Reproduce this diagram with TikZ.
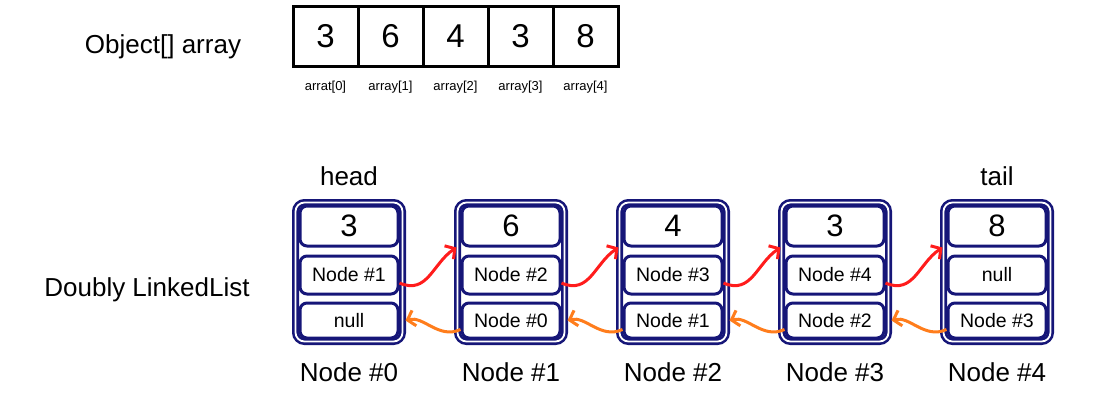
\documentclass[tikz,border=0pt]{standalone}
\usepackage{fontspec}
\setmainfont{Liberation Sans}
\usepackage{xcolor}
\usepackage{tikz}
\usetikzlibrary{arrows.meta,positioning}
\definecolor{navy}{RGB}{22,22,120}
\definecolor{nextred}{RGB}{255,28,28}
\definecolor{prevorange}{RGB}{255,125,28}

\begin{document}
\begin{tikzpicture}[x=1pt, y=-1pt,
    cell/.style={rectangle, draw, line width=3pt, minimum width=65pt, minimum height=60pt, font=\fontsize{33}{36}\selectfont},
    idx/.style={font=\fontsize{13}{15}\selectfont},
    lbl/.style={font=\fontsize{26}{30}\selectfont},
    frame/.style={rectangle, rounded corners=9pt, draw=navy, double, double distance=1.8pt, line width=2.6pt, minimum width=107pt, minimum height=139pt},
    slot/.style={rectangle, rounded corners=7pt, draw=navy, line width=3pt, minimum width=98pt, inner sep=0pt, font=\fontsize{19.5}{22}\selectfont},
    fwd/.style={-{Straight Barb[length=7pt,width=16pt]}, line width=3pt, nextred},
    bwd/.style={-{Straight Barb[length=7pt,width=16pt]}, line width=3pt, prevorange}
]
    \useasboundingbox (0,0) rectangle (1112,413);

    % array
    \node[lbl] (arr) at (163,47) {Object[] array};
    \foreach \val/\name [count=\i from 0] in {3/arrat[0], 6/array[1], 4/array[2], 3/array[3], 8/array[4]} {
        \node[cell] (a\i) at (325.5+65*\i, 36.5) {\val};
        \node[idx] (ai\i) at (325.5+65*\i, 87) {\name};
    }

    % doubly linked list
    \node[lbl] (dll) at (147,290) {Doubly LinkedList};
    \foreach \val/\nxt/\prv [count=\i from 0] in {3/Node \#1/null, 6/Node \#2/Node \#0, 4/Node \#3/Node \#1, 3/Node \#4/Node \#2, 8/null/Node \#3} {
        \node[frame] (o\i) at (349+162*\i, 272) {};
        \node[slot, minimum height=40pt, font=\fontsize{31}{34}\selectfont] (v\i) at (349+162*\i, 226) {\val};
        \node[slot, minimum height=38pt] (n\i) at (349+162*\i, 275) {\nxt};
        \node[slot, minimum height=35pt] (p\i) at (349+162*\i, 320.5) {\prv};
        \node[lbl] (c\i) at (349+162*\i, 372) {Node \#\i};
    }
    \node[lbl] (head) at (349,176) {head};
    \node[lbl] (tail) at (997,176) {tail};

    \foreach \i [evaluate=\i as \j using int(\i+1)] in {0,...,3} {
        \draw[fwd] ([yshift=-8pt]n\i.east) .. controls +(28,12) and +(-24,16) .. ([xshift=-4pt]v\j.south west);
        \draw[bwd] ([yshift=-9pt]p\j.west) .. controls +(-22,10) and +(18,-5) .. ([xshift=6pt]p\i.east);
    }
\end{tikzpicture}
\end{document}
